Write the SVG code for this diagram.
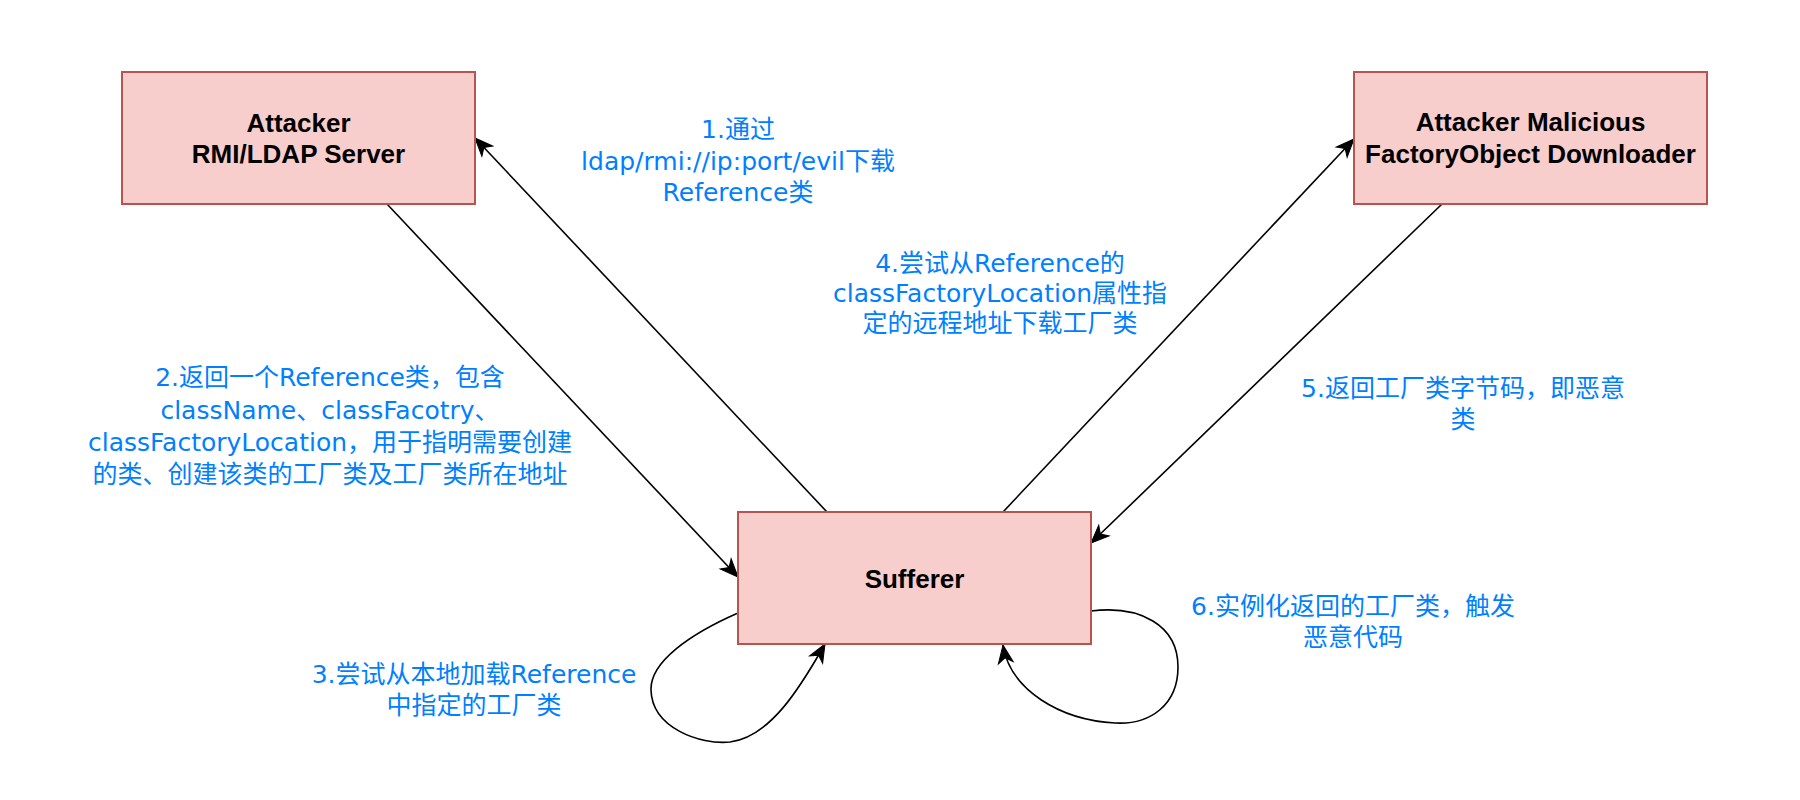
<svg xmlns="http://www.w3.org/2000/svg" width="1800" height="800" viewBox="0 0 1800 800">
  <style>
    .box { fill: #f8cecc; stroke: #b85450; stroke-width: 2; }
    .title { font-family: "Liberation Sans", "Noto Sans CJK SC", sans-serif; font-weight: bold; font-size: 26px; fill: #000; text-anchor: middle; }
    .lbl { font-family: "DejaVu Sans", "Noto Sans CJK SC", sans-serif; font-size: 25px; fill: #007FFF; text-anchor: middle; }
    .edge { fill: none; stroke: #000; stroke-width: 1.6; marker-end: url(#arrow); }
  </style>
  <defs>
    <marker id="arrow" markerUnits="userSpaceOnUse" markerWidth="22" markerHeight="18" viewBox="-20 -9 22 18" refX="0" refY="0" orient="auto">
      <path d="M0,0 L-18,-7.5 L-13,0 L-18,7.5 Z" fill="#000" stroke="#000" stroke-width="1"/>
    </marker>
  </defs>
  <rect width="1800" height="800" fill="#ffffff"/>

  <g id="connectors">
    <path class="edge" d="M827,512 L475,138"/>
    <path class="edge" d="M387,204 L738,577"/>
    <path class="edge" d="M1003,512 L1354,139"/>
    <path class="edge" d="M1442,204 L1091,543"/>
    <path class="edge" d="M738,613 C690,634 650,662 651,690 C652,728 700,745 730,742 C770,737 800,688 825,644"/>
    <path class="edge" d="M1091,611 C1140,605 1178,625 1178,667 C1178,705 1150,725 1115,723 C1060,720 1010,690 1003,645"/>
  </g>

  <g id="rmi-server">
    <rect class="box" x="122" y="72" width="353" height="132"/>
    <text class="title" x="298.5" y="132">Attacker</text>
    <text class="title" x="298.5" y="163">RMI/LDAP Server</text>
  </g>

  <g id="factory-downloader">
    <rect class="box" x="1354" y="72" width="353" height="132"/>
    <text class="title" x="1530.5" y="131">Attacker Malicious</text>
    <text class="title" x="1530.5" y="163">FactoryObject Downloader</text>
  </g>

  <g id="sufferer">
    <rect class="box" x="738" y="512" width="353" height="132"/>
    <text class="title" x="914.5" y="588">Sufferer</text>
  </g>

  <g id="labels">
    <text class="lbl" x="738" y="138">1.通过</text>
    <text class="lbl" x="738" y="170">ldap/rmi://ip:port/evil下载</text>
    <text class="lbl" x="738" y="201">Reference类</text>

    <text class="lbl" x="330" y="386">2.返回一个Reference类，包含</text>
    <text class="lbl" x="330" y="419">className、classFacotry、</text>
    <text class="lbl" x="330" y="451">classFactoryLocation，用于指明需要创建</text>
    <text class="lbl" x="330" y="483">的类、创建该类的工厂类及工厂类所在地址</text>

    <text class="lbl" x="474" y="683">3.尝试从本地加载Reference</text>
    <text class="lbl" x="474" y="714">中指定的工厂类</text>

    <text class="lbl" x="1000" y="272">4.尝试从Reference的</text>
    <text class="lbl" x="1000" y="302">classFactoryLocation属性指</text>
    <text class="lbl" x="1000" y="332">定的远程地址下载工厂类</text>

    <text class="lbl" x="1463" y="397">5.返回工厂类字节码，即恶意</text>
    <text class="lbl" x="1463" y="428">类</text>

    <text class="lbl" x="1353" y="615">6.实例化返回的工厂类，触发</text>
    <text class="lbl" x="1353" y="646">恶意代码</text>
  </g>
</svg>
